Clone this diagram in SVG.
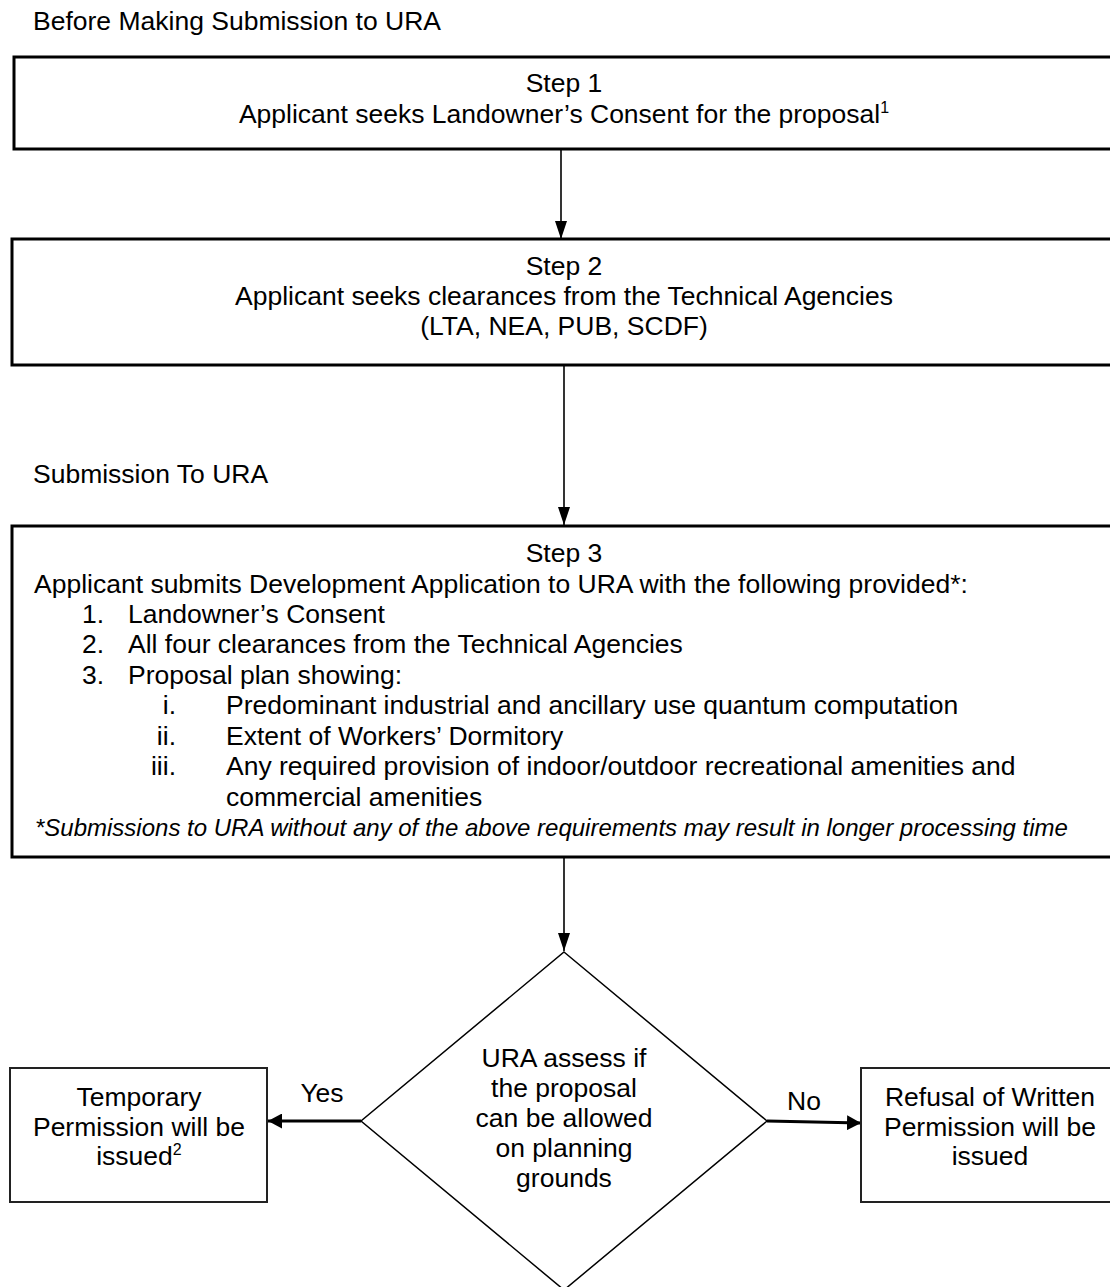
<svg xmlns="http://www.w3.org/2000/svg" width="1110" height="1287" viewBox="0 0 1110 1287">
<style>
text{font-family:"Liberation Sans",Arial,sans-serif;font-size:26.5px;fill:#000}
.c{text-anchor:middle}
.e{text-anchor:end}
.it{font-style:italic;font-size:24px}
.box{fill:#fff;stroke:#000;stroke-width:3}
.sbox{fill:#fff;stroke:#222;stroke-width:2}
.dia{fill:#fff;stroke:#000;stroke-width:1.5}
.ln{stroke:#000;stroke-width:1.6;fill:none}
.lnb{stroke:#000;stroke-width:3;fill:none}
.sup{font-size:16px}
</style>
<defs>
<marker id="ah" markerUnits="userSpaceOnUse" markerWidth="18" markerHeight="12" refX="18" refY="6" viewBox="0 0 18 12" orient="auto">
<path d="M0,0 L18,6 L0,12 z" fill="#000"/>
</marker>
<marker id="ahb" markerUnits="userSpaceOnUse" markerWidth="14" markerHeight="15" refX="14" refY="7.5" viewBox="0 0 14 15" orient="auto">
<path d="M0,0 L14,7.5 L0,15 z" fill="#000"/>
</marker>
</defs>
<rect width="1110" height="1287" fill="#fff"/>
<text x="33" y="30">Before Making Submission to URA</text>
<text x="33" y="483">Submission To URA</text>
<g id="connectors">
<line class="ln" x1="561" y1="149" x2="561" y2="239" marker-end="url(#ah)"/>
<line class="ln" x1="564" y1="365" x2="564" y2="525" marker-end="url(#ah)"/>
<line class="ln" x1="564" y1="857" x2="564" y2="951" marker-end="url(#ah)"/>
<line class="lnb" x1="361" y1="1121" x2="268" y2="1121" marker-end="url(#ahb)"/>
<line class="lnb" x1="767" y1="1121" x2="861" y2="1123" marker-end="url(#ahb)"/>
<text class="c" x="322" y="1102">Yes</text>
<text class="c" x="804" y="1110">No</text>
</g>
<g id="step1">
<rect class="box" x="14" y="57" width="1102" height="92"/>
<text class="c" x="564" y="92">Step 1</text>
<text class="c" x="564" y="123">Applicant seeks Landowner’s Consent for the proposal<tspan class="sup" dy="-10">1</tspan></text>
</g>
<g id="step2">
<rect class="box" x="12" y="239" width="1104" height="126"/>
<text class="c" x="564" y="275">Step 2</text>
<text class="c" x="564" y="305">Applicant seeks clearances from the Technical Agencies</text>
<text class="c" x="564" y="335">(LTA, NEA, PUB, SCDF)</text>
</g>
<g id="step3">
<rect class="box" x="12" y="526" width="1104" height="331"/>
<text class="c" x="564" y="562">Step 3</text>
<text x="34" y="593">Applicant submits Development Application to URA with the following provided*:</text>
<text x="82" y="623">1.</text><text x="128" y="623">Landowner’s Consent</text>
<text x="82" y="653">2.</text><text x="128" y="653">All four clearances from the Technical Agencies</text>
<text x="82" y="684">3.</text><text x="128" y="684">Proposal plan showing:</text>
<text class="e" x="176" y="714">i.</text><text x="226" y="714">Predominant industrial and ancillary use quantum computation</text>
<text class="e" x="176" y="745">ii.</text><text x="226" y="745">Extent of Workers’ Dormitory</text>
<text class="e" x="176" y="775">iii.</text><text x="226" y="775">Any required provision of indoor/outdoor recreational amenities and</text>
<text x="226" y="806">commercial amenities</text>
<text class="it" x="35" y="836">*Submissions to URA without any of the above requirements may result in longer processing time</text>
</g>
<g id="decision">
<polygon class="dia" points="564,952 767,1121 564,1290 361,1121"/>
<text class="c" x="564" y="1067">URA assess if</text>
<text class="c" x="564" y="1097">the proposal</text>
<text class="c" x="564" y="1127">can be allowed</text>
<text class="c" x="564" y="1157">on planning</text>
<text class="c" x="564" y="1187">grounds</text>
</g>
<g id="temporary">
<rect class="sbox" x="10" y="1068" width="257" height="134"/>
<text class="c" x="139" y="1106">Temporary</text>
<text class="c" x="139" y="1136">Permission will be</text>
<text class="c" x="139" y="1165">issued<tspan class="sup" dy="-10">2</tspan></text>
</g>
<g id="refusal">
<rect class="sbox" x="861" y="1068" width="257" height="134"/>
<text class="c" x="990" y="1106">Refusal of Written</text>
<text class="c" x="990" y="1136">Permission will be</text>
<text class="c" x="990" y="1165">issued</text>
</g>
</svg>
